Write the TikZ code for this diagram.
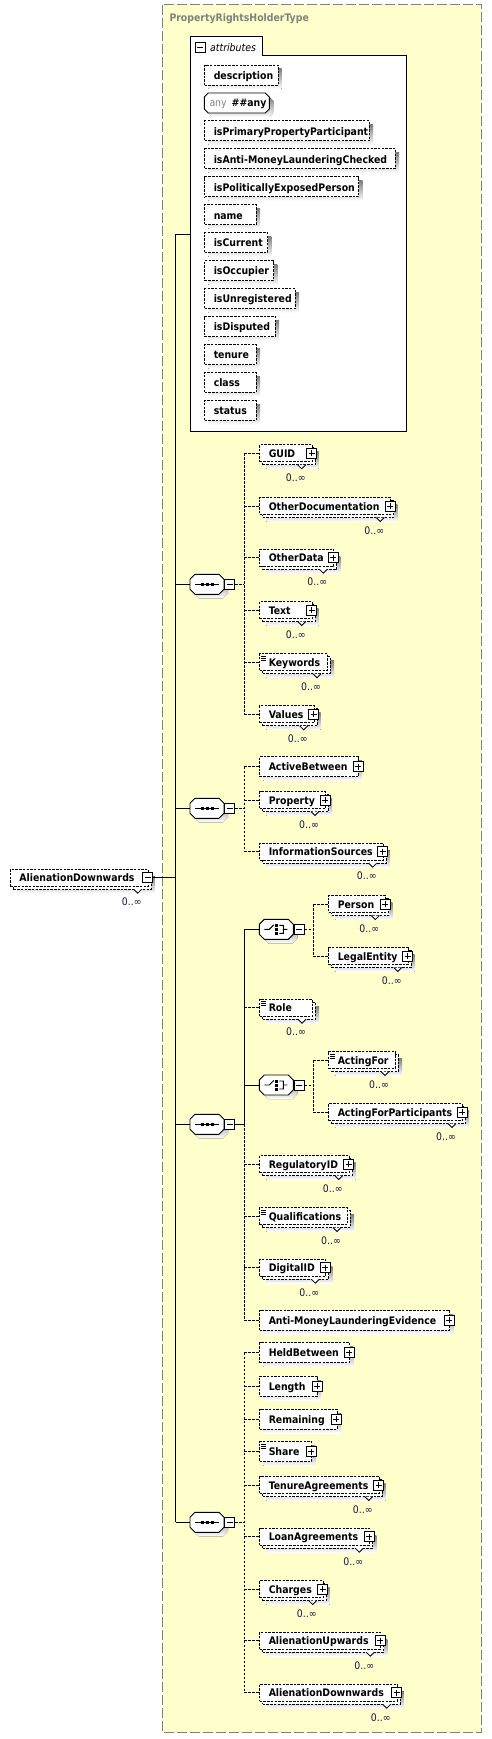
\documentclass[tikz,border=0pt]{standalone}
\usepackage{fontspec}
\newfontfamily\xsdfont{DejaVu Sans Condensed}

\definecolor{typefill}{RGB}{255,255,204}
\definecolor{typeline}{RGB}{128,128,128}
\definecolor{shade}{RGB}{192,192,192}
\definecolor{multcol}{RGB}{20,20,70}

\newcommand{\xsdsize}{\fontsize{10.4}{12}\selectfont}

% element with one occurrence
\newcommand{\elone}[5]{%
  \pgfmathsetmacro{\elw}{#3-#2}%
  \pgfmathsetmacro{\eltw}{#3-#2-18}%
  \fill[shade] (#2+4,#4-6) rectangle (#3+4,#4+14);
  \node[elbox, minimum height=20pt, minimum width=\elw pt, text width=\eltw pt] (#1) at (#2,#4) {\mbox{#5}};
}
% element 0..unbounded
\newcommand{\elmany}[5]{%
  \pgfmathsetmacro{\elw}{#3-#2}%
  \pgfmathsetmacro{\eltw}{#3-#2-18}%
  \fill[shade] (#2+7,#4-1.5) rectangle (#3+7,#4+15.5);
  \node[elbox, minimum height=17pt, minimum width=\elw pt] (#1b) at (#2+3,#4+3) {};
  \node[elbox, minimum height=17pt, minimum width=\elw pt, text width=\eltw pt] (#1) at (#2,#4) {\mbox{#5}};
  \draw[notch] (#3-14,#4+11.5) -- (#3-10,#4+15.5) -- (#3-6,#4+11.5);
  \node[mult] (#1n) at (#3-16,#4+24.5) {0..∞};
}
\newcommand{\elplus}[1]{\node[plusbox] (#1p) at ([xshift=-1pt]#1.east) {};}
\newcommand{\elminus}[1]{\node[minusbox] (#1m) at ([xshift=-1pt]#1.east) {};}
\newcommand{\ellines}[1]{\draw[solid, line width=.6pt] ([shift={(2pt,-3pt)}]#1.north west) -- ++(5pt,0pt)
  ([shift={(2pt,-5pt)}]#1.north west) -- ++(5pt,0pt) ([shift={(2pt,-7pt)}]#1.north west) -- ++(5pt,0pt);}

% sequence / choice
\newcommand{\octo}[3]{%
  \fill[shade] (#2+9,#3-6) -- (#2+33,#3-6) -- (#2+38,#3-1) -- (#2+38,#3+9) -- (#2+33,#3+14) -- (#2+9,#3+14) -- (#2+4,#3+9) -- (#2+4,#3-1) -- cycle;
  \node[hold] (#1) at (#2,#3) {};
  \draw[octo] (#2+5,#3-10) -- (#2+29,#3-10) -- (#2+34,#3-5) -- (#2+34,#3+5) -- (#2+29,#3+10) -- (#2+5,#3+10) -- (#2,#3+5) -- (#2,#3-5) -- cycle;
  \node[minusbox, anchor=west] (#1m) at (#1.east) {};
}
\newcommand{\seqnode}[3]{\octo{#1}{#2}{#3}
  \draw[line width=.9pt] (#2+5,#3) -- (#2+29,#3);
  \foreach \dd in {10.5,15.5,20.5} \fill (#2+\dd,#3-1.75) rectangle ++(3.5,3.5);
}
\newcommand{\choicenode}[3]{\octo{#1}{#2}{#3}
  \draw[line width=.9pt] (#2+5,#3) -- (#2+10,#3) -- (#2+14.5,#3-4.5)
    (#2+20,#3-4) -- (#2+24,#3-4) -- (#2+24,#3+4) -- (#2+20,#3+4) (#2+24,#3) -- (#2+28,#3);
  \foreach \dd in {0,4,8} \fill (#2+16,#3-5.5+\dd) rectangle ++(3,3);
}

\begin{document}
\begin{tikzpicture}[x=1pt, y=-1pt,
    elbox/.style={draw, fill=white, dash pattern=on 2.5pt off 1.2pt, line width=.9pt, anchor=west,
      inner xsep=9pt, inner ysep=0pt, text height=9.5pt, text depth=1pt, align=left,
      font=\xsdfont\bfseries\xsdsize},
    plusbox/.style={draw, solid, fill=white, line width=.8pt, minimum size=10pt, inner sep=0pt,
      path picture={\draw[line width=.8pt] ([xshift=2pt]path picture bounding box.west) -- ([xshift=-2pt]path picture bounding box.east)
        ([yshift=-2pt]path picture bounding box.north) -- ([yshift=2pt]path picture bounding box.south);}},
    minusbox/.style={draw, solid, fill=white, line width=.8pt, minimum size=10pt, inner sep=0pt,
      path picture={\draw[line width=.8pt] ([xshift=2pt]path picture bounding box.west) -- ([xshift=-2pt]path picture bounding box.east);}},
    hold/.style={rectangle, minimum width=34pt, minimum height=20pt, inner sep=0pt, anchor=west},
    octo/.style={draw, solid, fill=white, line width=.9pt},
    notch/.style={draw, solid, fill=white, line width=.8pt},
    mult/.style={inner sep=0pt, text=multcol, font=\xsdfont\xsdsize},
    tree/.style={line width=.9pt},
    dconn/.style={line width=.9pt, dash pattern=on 2.5pt off 1.5pt},
    typebox/.style={draw=typeline, fill=typefill, line width=1pt, dash pattern=on 10pt off 3pt}]

    \useasboundingbox (0,0) rectangle (492,1739);

    % complex type
    \draw[typebox] (162.5,5) rectangle (481.5,1732.5);
    \node[anchor=west, inner sep=0pt, text=typeline, font=\xsdfont\bfseries\xsdsize] (title) at (169.3,19) {PropertyRightsHolderType};

    % attributes
    \draw[octo] (190,431) -- (190,36) -- (262,36) -- (262,55) -- (406.7,55) -- (406.7,431) -- cycle;
    \node[minusbox] (attrm) at (200.3,47.5) {};
    \node[anchor=west, inner sep=0pt, font=\xsdfont\itshape\xsdsize] (attrlbl) at (210,47.5) {attributes};
    \foreach \t/\r/\i in {description/277.7/0, isPrimaryPropertyParticipant/369/2, isAnti-MoneyLaunderingChecked/395/3,
        isPoliticallyExposedPerson/358.3/4, name/256/5, isCurrent/267.3/6, isOccupier/273.3/7, isUnregistered/295/8,
        isDisputed/275/9, tenure/256/10, class/256/11, status/256/12}{
      \pgfmathsetmacro{\ty}{75+27.95*\i}
      \pgfmathsetmacro{\aw}{\r-204.3}
      \pgfmathsetmacro{\atw}{\r-222.3}
      \fill[shade] (208.3,\ty-6) rectangle (\r+4,\ty+14);
      \node[elbox, minimum height=20pt, minimum width=\aw pt, text width=\atw pt] (attr\i) at (204.3,\ty) {\mbox{\t}};
    }
    \fill[shade, shift={(4pt,-4pt)}] (208.3,93) -- (265.3,93) -- (269.3,97) -- (269.3,109) -- (265.3,113) -- (208.3,113) -- (204.3,109) -- (204.3,97) -- cycle;
    \node[hold, minimum width=65pt] (anyattr) at (204.3,103) {};
    \draw[octo] (208.3,93) -- (265.3,93) -- (269.3,97) -- (269.3,109) -- (265.3,113) -- (208.3,113) -- (204.3,109) -- (204.3,97) -- cycle;
    \node[anchor=west, inner sep=0pt, font=\xsdfont\bfseries\xsdsize] (anytxt) at (209.3,103.5) {\textcolor{typeline}{\mdseries any}\hspace{5pt}\#\#any};

    % root element
    \elmany{root}{10}{147.7}{877.7}{AlienationDownwards}
    \elminus{root}
    \coordinate (sp) at (175.7,234);
    \coordinate (attrw) at (190,234);

    % sequences
    \seqnode{s1}{190}{584.3}
    \seqnode{s2}{190}{808.3}
    \seqnode{s3}{190}{1124.3}
    \seqnode{s4}{190}{1522.3}
    \coordinate (v1) at (244.3,584.3);
    \coordinate (v2) at (244.3,808.3);
    \coordinate (v3) at (244.3,1124.3);
    \coordinate (v4) at (244.3,1522.3);

    \elmany{guid}{259.3}{311.7}{453.3}{GUID} \elplus{guid}
    \elmany{otherdoc}{259.3}{390.3}{506}{OtherDocumentation} \elplus{otherdoc}
    \elmany{otherdata}{259.3}{333.3}{557.7}{OtherData} \elplus{otherdata}
    \elmany{txt}{259.3}{311.7}{610}{Text} \elplus{txt}
    \elmany{keywords}{259.3}{327}{662.3}{Keywords} \ellines{keywords}
    \elmany{values}{259.3}{313.7}{714.3}{Values} \elplus{values}

    \elone{activebetween}{259.3}{358}{766.7}{ActiveBetween} \elplus{activebetween}
    \elmany{property}{259.3}{325}{800}{Property} \elplus{property}
    \elmany{infosources}{259.3}{382.7}{851.7}{InformationSources} \elplus{infosources}

    \choicenode{c1}{259.3}{929.3}
    \choicenode{c2}{259.3}{1085}
    \coordinate (w1) at (313.3,929.3);
    \coordinate (w2) at (313.3,1085);
    \elmany{person}{328.3}{385.3}{904}{Person} \elplus{person}
    \elmany{legalentity}{328.3}{407.7}{956}{LegalEntity} \elplus{legalentity}
    \elmany{role}{259.3}{312}{1007.7}{Role} \ellines{role}
    \elmany{actingfor}{328.3}{395}{1060}{ActingFor} \ellines{actingfor}
    \elmany{actingforp}{328.3}{462}{1112}{ActingForParticipants} \elplus{actingforp}
    \elmany{regid}{259.3}{348.7}{1164}{RegulatoryID} \elplus{regid}
    \elmany{qual}{259.3}{347}{1216}{Qualifications} \ellines{qual}
    \elmany{digitalid}{259.3}{325.3}{1267.7}{DigitalID} \elplus{digitalid}
    \elone{amle}{259.3}{449.3}{1320}{Anti-MoneyLaunderingEvidence} \elplus{amle}

    \elone{heldbetween}{259.3}{349.3}{1352.7}{HeldBetween} \elplus{heldbetween}
    \elone{length}{259.3}{317}{1386}{Length} \elplus{length}
    \elone{remaining}{259.3}{336.5}{1419}{Remaining} \elplus{remaining}
    \elone{share}{259.3}{311.3}{1451.7}{Share} \ellines{share} \elplus{share}
    \elmany{tenureagr}{259.3}{378.7}{1485}{TenureAgreements} \elplus{tenureagr}
    \elmany{loanagr}{259.3}{369.3}{1536.7}{LoanAgreements} \elplus{loanagr}
    \elmany{charges}{259.3}{322.7}{1589}{Charges} \elplus{charges}
    \elmany{alup}{259.3}{380.3}{1640.7}{AlienationUpwards} \elplus{alup}
    \elmany{aldown}{259.3}{396.7}{1692.7}{AlienationDownwards} \elplus{aldown}

    % connectors
    \draw[tree] (rootm.east) -- (rootm.east -| sp);
    \draw[tree] (sp) -- (sp |- s4.west);
    \draw[tree] (sp) -- (attrw);
    \foreach \s in {s1,s2,s3,s4} \draw[tree] (sp |- \s.west) -- (\s.west);

    \draw[dconn] (s1m.east) -- (v1);
    \draw[dconn] (v1 |- guid.west) -- (v1 |- values.west);
    \foreach \e in {guid,otherdoc,otherdata,txt,keywords,values} \draw[dconn] (v1 |- \e.west) -- (\e.west);

    \draw[dconn] (s2m.east) -- (v2);
    \draw[dconn] (v2 |- activebetween.west) -- (v2 |- infosources.west);
    \foreach \e in {activebetween,property,infosources} \draw[dconn] (v2 |- \e.west) -- (\e.west);

    \draw[tree] (s3m.east) -- (v3);
    \draw[tree] (v3 |- c1.west) -- (v3);
    \draw[dconn] (v3) -- (v3 |- amle.west);
    \foreach \e in {c1,c2} \draw[tree] (v3 |- \e.west) -- (\e.west);
    \foreach \e in {role,regid,qual,digitalid,amle} \draw[dconn] (v3 |- \e.west) -- (\e.west);
    \draw[dconn] (c1m.east) -- (w1);
    \draw[dconn] (w1 |- person.west) -- (w1 |- legalentity.west);
    \foreach \e in {person,legalentity} \draw[dconn] (w1 |- \e.west) -- (\e.west);
    \draw[dconn] (c2m.east) -- (w2);
    \draw[dconn] (w2 |- actingfor.west) -- (w2 |- actingforp.west);
    \foreach \e in {actingfor,actingforp} \draw[dconn] (w2 |- \e.west) -- (\e.west);

    \draw[dconn] (s4m.east) -- (v4);
    \draw[dconn] (v4 |- heldbetween.west) -- (v4 |- aldown.west);
    \foreach \e in {heldbetween,length,remaining,share,tenureagr,loanagr,charges,alup,aldown} \draw[dconn] (v4 |- \e.west) -- (\e.west);

\end{tikzpicture}
\end{document}
